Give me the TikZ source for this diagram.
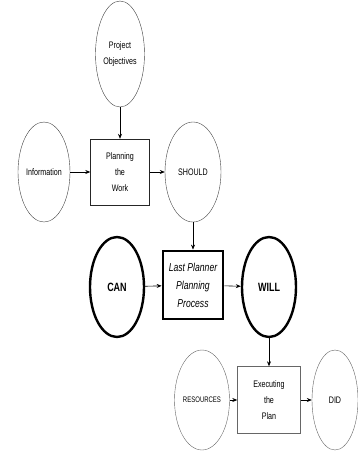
\documentclass[tikz,border=0pt]{standalone}
\usepackage{fontspec}
\setmainfont{Liberation Sans}
\newfontfamily\narrowsf[FakeStretch=0.75]{Liberation Sans}
\usetikzlibrary{shapes.geometric,arrows.meta}

\tikzset{
  oval/.style={draw=black!75, ellipse, inner sep=0pt, minimum width=52pt, minimum height=100pt,
    align=center, font=\narrowsf\fontsize{9.5}{16}\selectfont},
  bigoval/.style={oval, draw=black, line width=2.4pt, minimum width=54pt,
    font=\narrowsf\fontsize{12}{14}\selectfont\bfseries},
  stepbox/.style={draw=black!85, rectangle, minimum width=60pt, minimum height=66pt,
    align=center, font=\narrowsf\fontsize{9.5}{16}\selectfont},
  link/.style={-{Stealth[length=5pt,width=4pt]}, line width=0.6pt}
}

\begin{document}
\begin{tikzpicture}[x=1pt, y=-1pt]
    \useasboundingbox (0,0) rectangle (357,453);
    % top row
    \node[oval, minimum width=49pt, minimum height=106pt] (goals) at (120,54) {Project\\Objectives};
    \node[oval] (info) at (44,172) {Information};
    \node[stepbox, minimum width=59pt] (plan) at (120,172) {Planning\\the\\Work};
    \node[oval, minimum width=56pt] (should) at (193,172) {SHOULD};
    % middle row
    \node[bigoval] (can) at (117,287) {CAN};
    \node[stepbox, draw=black, line width=2.8pt, minimum height=68pt,
          font=\narrowsf\fontsize{11.5}{18}\selectfont\itshape] (lpp) at (193,285) {Last Planner\\Planning\\Process};
    \node[bigoval] (will) at (269,287) {WILL};
    % bottom row
    \node[oval, draw=black!60, minimum width=55pt, font=\narrowsf\fontsize{8}{9}\selectfont] (res) at (202,400) {RESOURCES};
    \node[stepbox, draw=black!60, minimum width=63pt, minimum height=67pt] (exec) at (269,400) {Executing\\the\\Plan};
    \node[oval, draw=black!60, minimum width=46pt] (did) at (335,400) {DID};
    % arrows
    \draw[link] (goals) -- (plan);
    \draw[link] (info) -- (plan);
    \draw[link] (plan) -- (should);
    \draw[link] (should) -- (lpp);
    \draw[link] (can) -- (lpp);
    \draw[link] (lpp) -- (will);
    \draw[link] (will) -- (exec);
    \draw[link] (res) -- (exec);
    \draw[link] (exec) -- (did);
\end{tikzpicture}
\end{document}
